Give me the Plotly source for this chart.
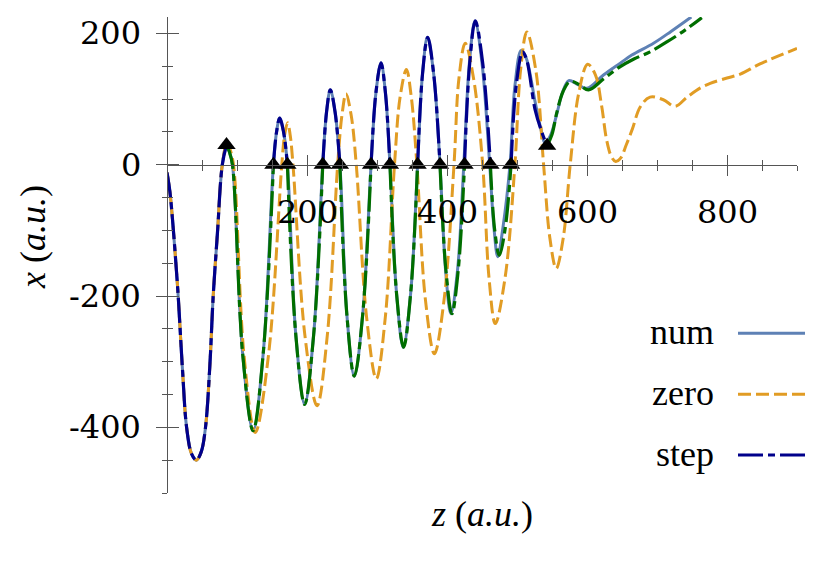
import plotly.graph_objects as go

# ---------------- data ----------------
step_z = [0, 4, 8, 12, 16, 22, 28, 35, 42, 49, 55, 61, 66, 72, 79, 85,
          89, 93.5, 108, 123, 137.5, 152,
          156.5, 161, 166.5, 172,
          184, 196.6, 209.5, 222.5,
          228, 233.3, 240, 247,
          257, 267.6, 279.5, 291.5,
          298.5, 305.7, 312, 318.5,
          328, 338, 348, 358,
          365, 372.4, 381, 390,
          398.5, 407, 416, 425,
          432.5, 440.4, 451, 462,
          468, 474.7, 483, 491.5,
          499, 508, 514, 526, 536, 543,
          550, 557, 566, 576, 589, 602, 624, 647, 667, 690, 714, 740, 764]
step_x = [-12, -40, -85, -140, -200, -310, -400, -440, -450, -437, -400, -310, -200, -105, 0, 30,
          20, 0, -287, -405, -287, 0,
          50, 71, 50, 0,
          -259, -365, -259, 0,
          81, 114, 81, 0,
          -229, -322, -229, 0,
          110, 155, 110, 0,
          -197, -278, -197, 0,
          138, 194, 138, 0,
          -161, -227, -161, 0,
          155, 219, 155, 0,
          -98, -138, -98, 0,
          122, 172, 159, 83, 48, 29,
          46, 80, 112, 127, 122, 114, 131, 149, 161, 172, 187, 205, 224]

# junctions where the "step" solution switches (black triangles)
switch_z = [85, 152, 172, 222.5, 247, 291.5, 318.5, 358, 390, 425, 462, 491.5, 543]

num_z = [0, 4, 8, 12, 16, 22, 28, 35, 42, 49, 55, 61, 66, 72, 79, 85,
         89, 93.5, 108, 123, 137.5, 152,
         156.5, 161, 166.5, 172,
         184, 196.6, 209.5, 222.5,
         228, 233.3, 240, 247,
         257, 267.6, 279.5, 291.5,
         298.5, 305.7, 312, 318.5,
         328, 337.5, 348, 358,
         365, 372, 381, 390,
         398, 405.5, 415, 424,
         432, 440, 450, 461,
         467, 472.5, 480, 490,
         497, 506, 513, 526, 534, 540,
         548, 557, 565, 574, 587, 600, 624, 648, 664, 695, 720, 749]
num_x = [-12, -40, -85, -140, -200, -310, -400, -440, -450, -437, -400, -310, -200, -105, 0, 30,
         20, 0, -287, -405, -287, 0,
         50, 71, 50, 0,
         -259, -365, -259, 0,
         81, 114, 81, 0,
         -229, -322, -229, 0,
         110, 155, 110, 0,
         -197, -278, -197, 0,
         138, 194, 138, 0,
         -161, -227, -161, 0,
         155, 219, 155, 0,
         -95, -140, -95, 0,
         120, 174, 163, 95, 55, 33,
         45, 78, 110, 128, 122, 116.5, 137, 155, 167, 185, 203, 225]

zero_z = [0, 4, 8, 12, 16, 22, 28, 35, 42, 49, 55, 61, 66, 72, 79, 86,
          90, 95, 110, 126, 145, 164,
          168, 172.3, 176, 180,
          197, 214.3, 229, 243.8,
          250, 255.7, 263, 270.4,
          285, 299, 312, 325,
          333, 342, 349, 357,
          369, 382, 396, 410,
          417, 426, 438, 451,
          460, 469, 483, 497,
          505, 514, 527, 538,
          547, 556, 566, 576,
          588, 601, 612, 621, 628, 635, 641, 648, 656, 665, 676, 690, 709, 726, 743, 762, 776, 800, 819, 848, 900]
zero_x = [-12, -40, -85, -140, -200, -310, -400, -440, -450, -437, -400, -310, -200, -105, 0, 35,
          24, 0, -290, -408, -290, 0,
          45, 64, 45, 0,
          -260, -367, -260, 0,
          76, 108, 76, 0,
          -231, -326, -231, 0,
          103, 145, 103, 0,
          -204, -288, -204, 0,
          131, 185, 131, 0,
          -172, -242, -172, 0,
          143, 202, 143, 0,
          -112, -158, -112, 0,
          108, 153, 137, 89, 38, 12, 5, 10, 30, 55, 88, 103, 99, 89, 103, 117, 124, 132, 138, 154, 177]

x_tickvals = [200, 400, 600, 800]
x_ticktext = ["200", "400", "600", "800"]
x_minor = [50, 100, 150, 250, 300, 350, 450, 500, 550, 650, 700, 750, 850, 900]
y_tickvals = [-400, -200, 0, 200]
y_ticktext = ["-400", "-200", "0", "200"]
y_minor = [-500, -450, -350, -300, -250, -150, -100, -50, 50, 100, 150]

legend_names = ["num", "zero", "step"]

# ---------------- styles ----------------
C_NUM = "#5E81B5"
C_ZERO = "#E19C24"
C_STEP = "#00008B"
C_STEP2 = "#006E00"
DASHDOT = "25px,5px,7px,5px"
DASH = "13px,5px"
AX = "#555555"
FONT = "Liberation Serif"
FONT_NUM = "DejaVu Serif"
XR = [0, 900]
YR = [-500, 225]
SM = 1.0
L, T, W, H = 167, 17, 630, 476


def px_x(p):
    return (p - L) / W


def px_y(p):
    return (T + H - p) / H


fig = go.Figure()

fig.add_trace(go.Scatter(x=num_z, y=num_x, mode="lines", line=dict(color=C_NUM, width=3, shape="spline", smoothing=SM),
                         hoverinfo="skip"))
fig.add_trace(go.Scatter(x=zero_z, y=zero_x, mode="lines",
                         line=dict(color=C_ZERO, width=3, dash=DASH, shape="spline", smoothing=SM), hoverinfo="skip"))

idx = [step_z.index(s) for s in switch_z]
bounds = [0] + idx + [len(step_z) - 1]
for k in range(len(bounds) - 1):
    a, b = bounds[k], bounds[k + 1]
    col = C_STEP if k % 2 == 0 else C_STEP2
    fig.add_trace(go.Scatter(x=step_z[a:b + 1], y=step_x[a:b + 1], mode="lines",
                             line=dict(color=col, width=3.2, dash=DASHDOT, shape="spline", smoothing=SM),
                             hoverinfo="skip"))

fig.add_trace(go.Scatter(x=switch_z, y=[step_x[i] for i in idx], mode="markers",
                         marker=dict(symbol="triangle-up", size=16, color="black"), hoverinfo="skip"))

fig.add_trace(go.Scatter(x=[None], y=[None], xaxis="x2", yaxis="y2", hoverinfo="skip"))

ypos = (0 - YR[0]) / (YR[1] - YR[0])
common_x = dict(range=XR, showgrid=False, zeroline=False, tickvals=x_tickvals, showticklabels=False,
                ticklen=10, tickwidth=1.3, tickcolor=AX, anchor="free", position=ypos, automargin=False)
common_y = dict(range=YR, showgrid=False, zeroline=False, tickvals=y_tickvals, showticklabels=False,
                ticklen=11, tickwidth=1.3, tickcolor=AX, anchor="free", position=0, automargin=False)

fig.update_layout(
    width=830, height=567,
    margin=dict(l=L, r=830 - L - W, t=T, b=567 - T - H, autoexpand=False),
    plot_bgcolor="white", paper_bgcolor="white",
    showlegend=False,
    font=dict(family=FONT, size=36, color="black"),
    xaxis=dict(**common_x, ticks="outside", showline=True, linecolor=AX, linewidth=1.3,
               minor=dict(tickvals=x_minor, ticks="outside", ticklen=5, tickwidth=1.3, tickcolor=AX, showgrid=False)),
    yaxis=dict(**common_y, ticks="outside", showline=True, linecolor=AX, linewidth=1.3,
               minor=dict(tickvals=y_minor, ticks="outside", ticklen=5, tickwidth=1.3, tickcolor=AX, showgrid=False)),
    xaxis2=dict(**common_x, overlaying="x", ticks="inside", showline=False,
                minor=dict(tickvals=x_minor, ticks="inside", ticklen=5, tickwidth=1.3, tickcolor=AX, showgrid=False)),
    yaxis2=dict(**common_y, overlaying="y", ticks="inside", showline=False,
                minor=dict(tickvals=y_minor, ticks="inside", ticklen=5, tickwidth=1.3, tickcolor=AX, showgrid=False)),
)

# tick labels (as text placed at the axis tick values)
for v, t in zip(x_tickvals, x_ticktext):
    fig.add_annotation(text=t, xref="x", yref="paper", x=v, y=px_y(212), showarrow=False,
                       xanchor="center", yanchor="middle", font=dict(size=32, family=FONT_NUM, color="black"))
for v, t in zip(y_tickvals, y_ticktext):
    fig.add_annotation(text=t, xref="paper", yref="y", x=px_x(143), y=v, showarrow=False,
                       xanchor="right", yanchor="middle", font=dict(size=32, family=FONT_NUM, color="black"))

# axis titles
fig.add_annotation(text="<i>z</i> (<i>a.u.</i>)", xref="paper", yref="paper", x=px_x(482), y=px_y(514),
                   showarrow=False, xanchor="center", yanchor="middle", font=dict(size=36, family=FONT))
fig.add_annotation(text="<i>x</i> (<i>a.u.</i>)", xref="paper", yref="paper", x=px_x(33), y=px_y(237),
                   showarrow=False, textangle=-90, xanchor="center", yanchor="middle", font=dict(size=36, family=FONT))

# legend
leg_y_px = [333.3, 394.3, 455]
leg_style = [dict(color=C_NUM, width=3), dict(color=C_ZERO, width=3, dash=DASH), dict(color=C_STEP, width=3.2, dash=DASHDOT)]
for name, py, st in zip(legend_names, leg_y_px, leg_style):
    fig.add_annotation(text=name, xref="paper", yref="paper", x=px_x(716), y=px_y(py - 1),
                       showarrow=False, xanchor="right", yanchor="middle", font=dict(size=36, family=FONT))
    fig.add_shape(type="line", xref="paper", yref="paper", x0=px_x(738), x1=px_x(805),
                  y0=px_y(py), y1=px_y(py), line=st)

fig.write_html("out.html", config={"displayModeBar": False},
               post_script="document.body.style.margin='0px';")
